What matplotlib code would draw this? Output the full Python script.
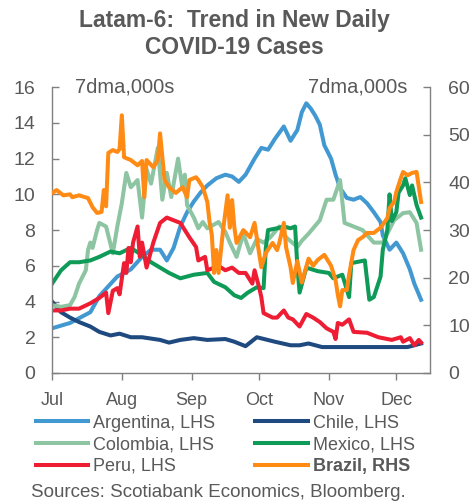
import datetime as dt
import matplotlib
matplotlib.use("Agg")
import matplotlib.pyplot as plt
import matplotlib.dates as mdates

plt.rcParams['font.family'] = ['Liberation Sans', 'DejaVu Sans']

BASE = dt.date(2020, 7, 1)

arg_days = [0, 8, 17, 21, 29, 35, 40, 44, 48, 51, 54, 57, 60, 63, 66, 69, 73, 77, 80, 83, 86, 90, 93, 96, 99, 103,
            106, 109, 111, 113, 115, 117, 119, 121, 124, 126, 128, 131, 134, 137, 140, 143, 146, 147, 150, 153, 156,
            159, 161, 164]
arg_vals = [2.5, 2.8, 3.4, 4.3, 5.4, 5.8, 6.5, 6.9, 6.9, 6.3, 7.0, 8.2, 9.0, 9.6, 10.1, 10.5, 10.9, 11.1, 11.0, 10.7,
            11.1, 12.0, 12.6, 12.5, 13.1, 13.8, 13.0, 13.6, 14.6, 15.1, 14.8, 14.4, 13.9, 12.75, 12.0, 11.1, 10.35,
            9.8, 9.7, 9.85, 9.5, 9.0, 8.45, 7.7, 6.9, 7.3, 6.7, 5.8, 5.0, 4.1]

chl_days = [0, 4, 8, 12, 17, 21, 26, 30, 35, 40, 48, 52, 57, 63, 69, 77, 81, 86, 91, 99, 106, 110, 114, 120, 158,
            161, 164]
chl_vals = [4.0, 3.4, 3.1, 2.85, 2.6, 2.3, 2.1, 2.2, 2.0, 2.0, 1.85, 1.7, 1.85, 1.95, 1.85, 1.9, 1.75, 1.5, 2.0,
            1.75, 1.55, 1.55, 1.65, 1.45, 1.45, 1.55, 1.65]

col_days = [0, 4, 8, 10, 12, 15, 16, 17, 18, 20, 21, 24, 27, 29, 31, 33, 35, 38, 40, 42, 44, 47, 49, 51, 53, 56,
            58, 59, 60, 63, 65, 67, 69, 74, 77, 79, 82, 85, 88, 91, 94, 97, 101, 104, 109, 111, 114, 119, 122, 125,
            128, 130, 134, 138, 143, 147, 152, 156, 159, 162, 164]
col_vals = [3.8, 3.7, 3.8, 4.25, 5.0, 5.75, 6.9, 7.3, 7.0, 8.0, 8.4, 8.2, 6.7, 8.2, 9.5, 11.2, 10.4, 10.8, 8.7,
            11.4, 10.6, 12.6, 9.7, 11.2, 9.85, 12.0, 10.3, 11.1, 9.4, 8.7, 8.1, 8.45, 8.1, 8.45, 7.9, 7.3, 6.5, 7.8,
            6.7, 7.5, 7.3, 7.6, 8.2, 7.6, 7.05, 7.4, 7.8, 8.55, 9.7, 9.7, 10.8, 8.4, 8.2, 8.0, 7.3, 7.3, 8.55, 8.95,
            9.0, 8.4, 6.9]

mex_days = [0, 4, 8, 12, 17, 21, 26, 30, 35, 40, 44, 48, 52, 57, 63, 69, 72, 77, 81, 84, 87, 91, 94, 95, 96, 100,
            103, 106, 108, 109, 110, 113, 118, 123, 125, 129, 132, 133, 139, 141, 143, 146, 147, 149, 150, 151, 153,
            154, 156, 157, 159, 160, 162, 164]
mex_vals = [5.0, 5.75, 6.2, 6.2, 6.3, 6.5, 6.8, 6.7, 7.0, 6.6, 6.2, 5.9, 5.6, 5.3, 5.5, 5.6, 5.1, 4.8, 4.35, 4.2,
            4.5, 4.8, 4.75, 7.0, 8.0, 8.1, 8.2, 8.1, 8.2, 6.0, 4.5, 5.9, 5.7, 5.6, 5.3, 5.5, 4.25, 6.15, 6.3, 4.1,
            4.25, 5.4, 6.9, 8.0, 10.0, 8.5, 9.0, 10.1, 10.5, 10.9, 9.96, 10.5, 9.4, 8.7]

per_days = [0, 4, 8, 12, 17, 21, 24, 25, 27, 29, 30, 32, 33, 34, 35, 36, 38, 39, 40, 42, 45, 48, 51, 54, 57, 59,
            61, 64, 65, 68, 69, 74, 77, 80, 83, 86, 89, 90, 92, 93, 94, 98, 100, 103, 105, 107, 110, 113, 116, 119,
            122, 125, 126, 127, 129, 132, 134, 140, 145, 151, 155, 156, 159, 161, 163, 164]
per_vals = [3.5, 3.5, 3.6, 3.6, 3.9, 4.2, 4.5, 3.35, 4.6, 4.75, 4.4, 6.15, 5.6, 7.0, 6.2, 7.3, 8.2, 6.5, 7.3, 5.9,
            7.3, 8.4, 8.7, 8.55, 8.4, 8.0, 7.6, 7.05, 6.3, 6.5, 5.75, 6.0, 5.75, 5.9, 5.6, 5.6, 5.0, 5.75, 4.8, 4.25,
            3.35, 3.1, 3.1, 3.5, 3.1, 3.0, 2.6, 3.3, 3.1, 2.85, 2.5, 2.3, 1.9, 2.8, 2.7, 3.0, 2.3, 2.25, 2.0, 1.85,
            2.0, 1.75, 1.95, 1.55, 1.85, 1.7]

bra_days = [0, 2, 5, 8, 9, 12, 16, 18, 20, 22, 23, 24, 25, 27, 29, 30, 31, 32, 35, 38, 40, 41, 42, 45, 47, 48, 50,
            52, 55, 58, 60, 61, 64, 65, 67, 69, 70, 71, 72, 73, 74, 76, 78, 79, 80, 81, 82, 85, 88, 90, 92, 93, 95,
            98, 100, 101, 103, 104, 106, 107, 109, 111, 114, 116, 118, 121, 124, 126, 127, 128, 129, 131, 132, 134,
            136, 138, 140, 143, 146, 149, 150, 152, 153, 155, 156, 158, 160, 162, 164]
bra_vals = [37.8, 38.4, 37.3, 37.5, 36.9, 37.3, 36.7, 34.8, 33.6, 33.8, 38.4, 35.0, 46.2, 46.8, 46.4, 47.0, 54.1,
            45.3, 44.7, 43.6, 44.5, 36.9, 44.7, 43.2, 44.7, 50.3, 40.5, 39.0, 37.8, 39.0, 36.9, 40.5, 41.1, 40.5,
            39.0, 35.9, 31.7, 29.0, 21.0, 25.8, 21.0, 30.0, 37.3, 30.5, 36.3, 30.6, 27.3, 30.0, 28.5, 31.5, 25.2,
            22.2, 25.2, 27.3, 25.8, 27.3, 31.5, 26.4, 22.2, 18.9, 23.5, 19.0, 24.0, 22.5, 23.7, 24.8, 22.5, 19.5,
            16.4, 14.0, 17.4, 17.4, 20.6, 25.8, 27.9, 28.5, 29.4, 29.4, 30.5, 32.5, 34.6, 35.9, 38.0, 40.9, 42.2,
            41.5, 42.0, 42.2, 35.9]

series_names = ["Argentina, LHS", "Chile, LHS", "Colombia, LHS", "Mexico, LHS", "Peru, LHS", "Brazil, RHS"]
colors = ["#4299d2", "#1f4a80", "#8dc4a2", "#0e9a57", "#ee1d34", "#ff8a14"]

left_ticks = [0, 2, 4, 6, 8, 10, 12, 14, 16]
right_ticks = [0, 10, 20, 30, 40, 50, 60]


def to_dates(days):
    return [BASE + dt.timedelta(days=d) for d in days]


GRAY = "#595959"
SPINE = "#808080"

fig = plt.figure(figsize=(4.69, 5.04), dpi=100)
ax = fig.add_axes([0.111, 0.26, 0.806, 0.567])
ax2 = ax.twinx()

lw = 2.9
lines = []
for days, vals, c in [(arg_days, arg_vals, colors[0]), (chl_days, chl_vals, colors[1]),
                      (col_days, col_vals, colors[2]), (mex_days, mex_vals, colors[3]),
                      (per_days, per_vals, colors[4])]:
    ln, = ax.plot(to_dates(days), vals, color=c, lw=lw, solid_joinstyle='round')
    lines.append(ln)
ln, = ax2.plot(to_dates(bra_days), bra_vals, color=colors[5], lw=lw, solid_joinstyle='round')
lines.append(ln)

ax.set_ylim(0, 16)
ax2.set_ylim(0, 60)
ax.set_yticks(left_ticks)
ax2.set_yticks(right_ticks)
ax.set_xlim(BASE, BASE + dt.timedelta(days=168))
ax.xaxis.set_major_locator(mdates.MonthLocator())
ax.xaxis.set_major_formatter(mdates.DateFormatter('%b'))

for a in (ax, ax2):
    a.spines['top'].set_visible(False)
    for s in ('left', 'right', 'bottom'):
        a.spines[s].set_color(SPINE)
        a.spines[s].set_linewidth(1.0)
ax.spines['right'].set_visible(False)
ax2.spines['left'].set_visible(False)
ax2.spines['bottom'].set_visible(False)

ax.tick_params(axis='y', direction='in', length=5, width=1, color=SPINE, labelsize=14, labelcolor=GRAY, pad=12)
ax2.tick_params(axis='y', direction='in', length=5, width=1, color=SPINE, labelsize=14, labelcolor=GRAY, pad=13)
ax.tick_params(axis='x', direction='out', length=5, width=1, color=SPINE, labelsize=13, labelcolor=GRAY, pad=9)

ax.text(0.06, 1.0, "7dma,000s", transform=ax.transAxes, ha='left', va='center', fontsize=14.5, color=GRAY)
ax.text(0.94, 1.0, "7dma,000s", transform=ax.transAxes, ha='right', va='center', fontsize=14.5, color=GRAY)

fig.text(0.5, 0.982, "Latam-6:  Trend in New Daily\nCOVID-19 Cases", ha='center', va='top',
         fontsize=16.5, fontweight='bold', color=GRAY, linespacing=1.2)

# column-wise fill order so that rows read: Argentina/Chile, Colombia/Mexico, Peru/Brazil
order = [0, 2, 4, 1, 3, 5]
leg = fig.legend([lines[i] for i in order], [series_names[i] for i in order], loc='upper left',
                 bbox_to_anchor=(0.076, 0.177), ncol=2, frameon=False, fontsize=13, handlelength=2.9,
                 handletextpad=0.3, columnspacing=2.2, labelspacing=0.25, borderaxespad=0,
                 borderpad=0)
for t in leg.get_texts():
    t.set_color(GRAY)
    if t.get_text() == "Brazil, RHS":
        t.set_fontweight('bold')

fig.text(0.066, 0.006, "Sources: Scotiabank Economics, Bloomberg.", ha='left', va='bottom', fontsize=13.5,
         color=GRAY)

fig.savefig("out.png", dpi=100)
